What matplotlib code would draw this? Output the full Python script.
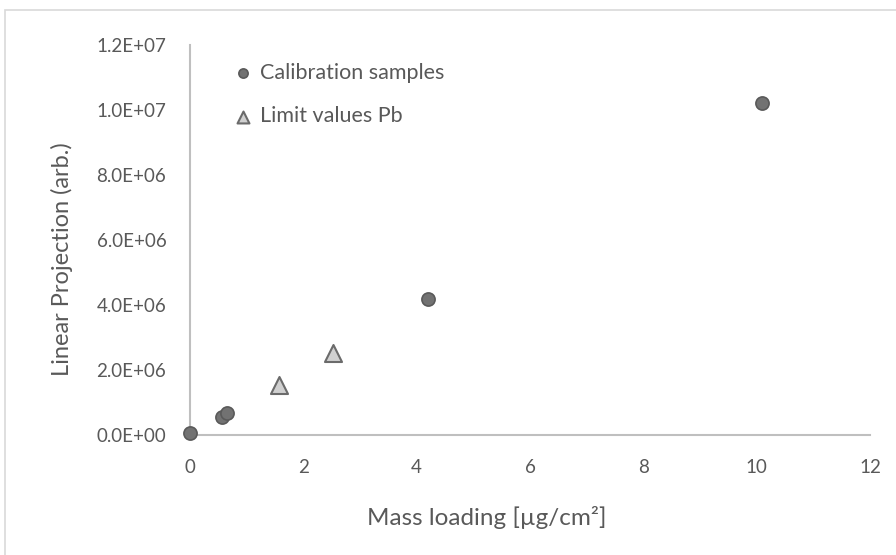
import matplotlib.pyplot as plt
import matplotlib.ticker as mticker
from matplotlib.patches import Rectangle

plt.rcParams['font.family'] = ['Lato', 'DejaVu Sans']

# Calibration samples
cal_x = [0.0, 0.56, 0.65, 4.2, 10.1]
cal_y = [0.05e6, 0.57e6, 0.67e6, 4.2e6, 1.02e7]

# Limit values Pb
lim_x = [1.57, 2.52]
lim_y = [1.54e6, 2.52e6]

text_col = '#595959'
axis_col = '#bfbfbf'

fig = plt.figure(figsize=(8.96, 5.55), dpi=100)
ax = fig.add_axes([0.212, 0.216, 0.759, 0.703])

# chart area border
fig.patches.append(Rectangle((5 / 896, -0.05), 1.1, 1 - 10 / 555 + 0.05,
                             transform=fig.transFigure, fill=False,
                             edgecolor='#d9d9d9', linewidth=1.2))

ax.scatter(cal_x, cal_y, s=90, marker='o', color='#727272',
           edgecolors='#5a5a5a', linewidths=1.2, zorder=3, clip_on=False,
           label='Calibration samples')
ax.scatter(lim_x, lim_y, s=150, marker='^', color='#d0d0d0',
           edgecolors='#6b6b6b', linewidths=1.5, zorder=3, clip_on=False,
           label='Limit values Pb')

ax.set_xlim(0, 12)
ax.set_ylim(0, 1.2e7)
ax.set_xticks(range(0, 13, 2))
ax.set_yticks([i * 2e6 for i in range(7)])
ax.yaxis.set_major_formatter(mticker.FuncFormatter(lambda v, p: f'{v:.1E}'))

for s in ['top', 'right']:
    ax.spines[s].set_visible(False)
for s in ['left', 'bottom']:
    ax.spines[s].set_color(axis_col)
    ax.spines[s].set_linewidth(1.5)

ax.tick_params(length=0, labelsize=13.5, colors=text_col)
ax.tick_params(axis='y', pad=17)
ax.tick_params(axis='x', pad=17)

ax.set_xlabel('Mass loading [µg/cm²]', fontsize=17.5, color=text_col)
ax.set_ylabel('Linear Projection (arb.)', fontsize=17, color=text_col)
ax.xaxis.set_label_coords(0.437, -0.182)
ax.yaxis.set_label_coords(-0.172, 0.451)

leg = ax.legend(loc='upper left', bbox_to_anchor=(0.034, 1.004), frameon=False,
                fontsize=15.5, labelcolor=text_col, labelspacing=1.1,
                handlelength=1.0, handletextpad=0.3, markerscale=0.7)

fig.savefig('out.png', dpi=100)
